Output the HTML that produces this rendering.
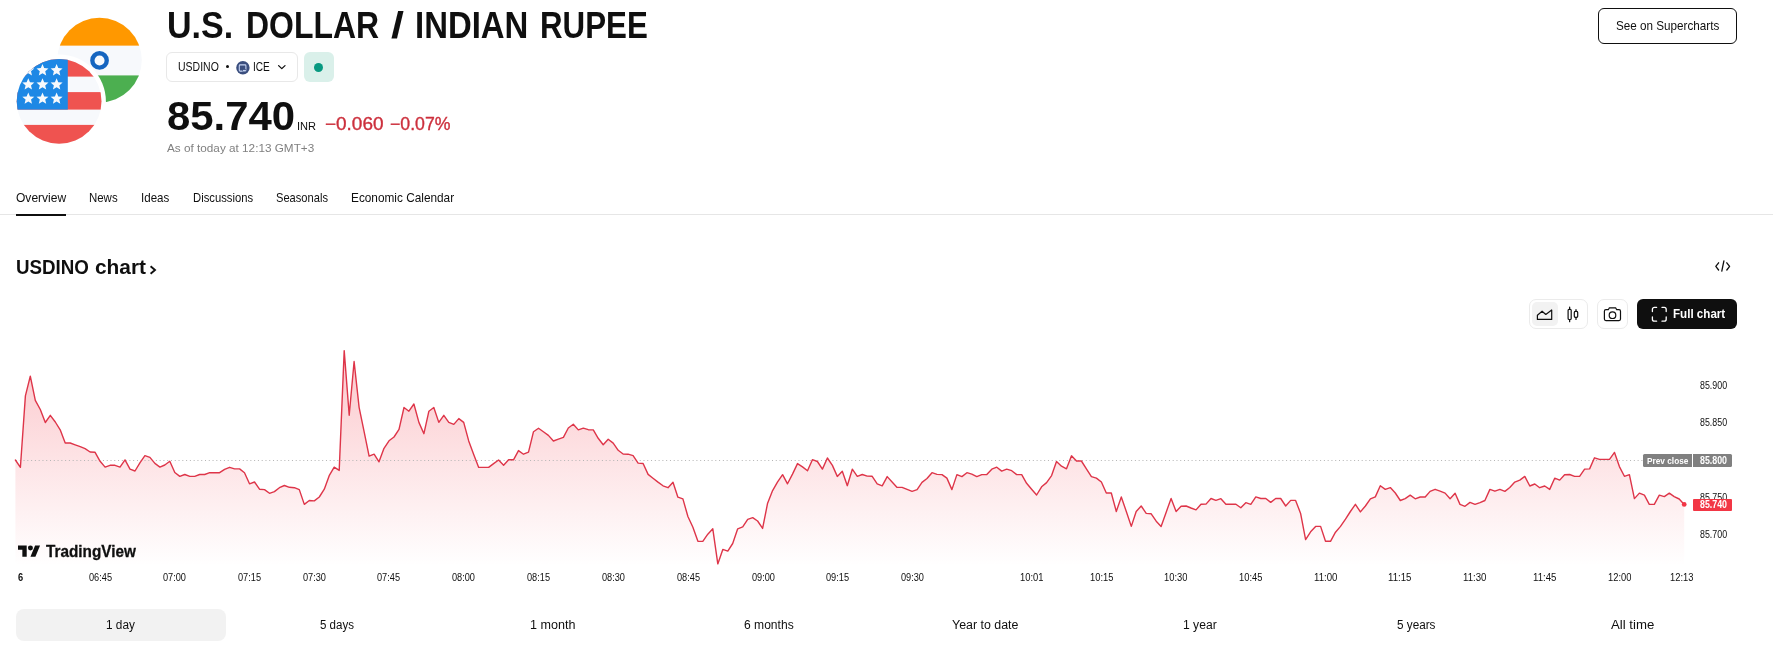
<!DOCTYPE html>
<html lang="en"><head><meta charset="utf-8"><title>USDINO</title>
<style>
html,body{margin:0;padding:0;background:#fff}
body{width:1773px;height:670px;position:relative;overflow:hidden;font-family:"Liberation Sans",sans-serif;color:#0f0f0f}
.t{position:absolute;white-space:nowrap;line-height:0;transform-origin:0 0;display:block}
.b{position:absolute;box-sizing:border-box}
svg{position:absolute;overflow:visible}
</style></head><body>

<svg style="left:0;top:0" width="160" height="160" viewBox="0 0 160 160">
<defs>
<clipPath id="ci"><circle cx="99.5" cy="60.1" r="42.3"/></clipPath>
<clipPath id="cu"><circle cx="59.1" cy="101.3" r="42.4"/></clipPath>
<mask id="mi"><rect width="160" height="160" fill="#fff"/><circle cx="59.1" cy="101.3" r="46.8" fill="#000"/></mask>
</defs>
<g mask="url(#mi)"><g clip-path="url(#ci)">
<rect x="56" y="17" width="88" height="28.8" fill="#FF9800"/>
<rect x="56" y="45.8" width="88" height="29.6" fill="#F7F9FC"/>
<rect x="56" y="75.4" width="88" height="28" fill="#4CAF50"/>
<circle cx="99.55" cy="60.45" r="7.2" fill="none" stroke="#1565C0" stroke-width="4.35"/>
</g></g>
<g clip-path="url(#cu)">
<rect x="16" y="58" width="87" height="87" fill="#F7F9FC"/>
<rect x="16" y="58" width="87" height="18.6" fill="#EF5350"/>
<rect x="16" y="92.1" width="87" height="17.5" fill="#EF5350"/>
<rect x="16" y="124.9" width="87" height="20" fill="#EF5350"/>
<rect x="16" y="58" width="51.8" height="51.6" fill="#1E88E5"/>

<polygon points="28.30,64.10 29.98,68.09 34.29,68.45 31.01,71.28 32.00,75.50 28.30,73.25 24.60,75.50 25.59,71.28 22.31,68.45 26.62,68.09" fill="#F7F9FC"/>
<polygon points="42.50,64.10 44.18,68.09 48.49,68.45 45.21,71.28 46.20,75.50 42.50,73.25 38.80,75.50 39.79,71.28 36.51,68.45 40.82,68.09" fill="#F7F9FC"/>
<polygon points="56.60,64.10 58.28,68.09 62.59,68.45 59.31,71.28 60.30,75.50 56.60,73.25 52.90,75.50 53.89,71.28 50.61,68.45 54.92,68.09" fill="#F7F9FC"/>
<polygon points="28.30,78.20 29.98,82.19 34.29,82.55 31.01,85.38 32.00,89.60 28.30,87.35 24.60,89.60 25.59,85.38 22.31,82.55 26.62,82.19" fill="#F7F9FC"/>
<polygon points="42.50,78.20 44.18,82.19 48.49,82.55 45.21,85.38 46.20,89.60 42.50,87.35 38.80,89.60 39.79,85.38 36.51,82.55 40.82,82.19" fill="#F7F9FC"/>
<polygon points="56.60,78.20 58.28,82.19 62.59,82.55 59.31,85.38 60.30,89.60 56.60,87.35 52.90,89.60 53.89,85.38 50.61,82.55 54.92,82.19" fill="#F7F9FC"/>
<polygon points="28.30,92.40 29.98,96.39 34.29,96.75 31.01,99.58 32.00,103.80 28.30,101.55 24.60,103.80 25.59,99.58 22.31,96.75 26.62,96.39" fill="#F7F9FC"/>
<polygon points="42.50,92.40 44.18,96.39 48.49,96.75 45.21,99.58 46.20,103.80 42.50,101.55 38.80,103.80 39.79,99.58 36.51,96.75 40.82,96.39" fill="#F7F9FC"/>
<polygon points="56.60,92.40 58.28,96.39 62.59,96.75 59.31,99.58 60.30,103.80 56.60,101.55 52.90,103.80 53.89,99.58 50.61,96.75 54.92,96.39" fill="#F7F9FC"/>
</g></svg>

<h1 style="margin:0;font-size:0">
<span class="t" style="left:166.76px;top:24.99px;font-size:37.39px;transform:scaleX(0.9107);color:#0f0f0f;font-weight:700;">U.S.</span>
<span class="t" style="left:246.42px;top:24.99px;font-size:37.39px;transform:scaleX(0.8544);color:#0f0f0f;font-weight:700;">DOLLAR</span>
<span class="t" style="left:391.17px;top:24.99px;font-size:37.39px;transform:scaleX(1.2500);color:#0f0f0f;font-weight:700;">/</span>
<span class="t" style="left:415.06px;top:24.99px;font-size:37.39px;transform:scaleX(0.8807);color:#0f0f0f;font-weight:700;">INDIAN</span>
<span class="t" style="left:540.27px;top:24.99px;font-size:37.39px;transform:scaleX(0.8371);color:#0f0f0f;font-weight:700;">RUPEE</span>
</h1>
<div class="b" style="left:166px;top:52px;width:132px;height:30px;border:1px solid #e8e8e8;border-radius:6px"></div>
<span class="t" style="left:177.81px;top:66.98px;font-size:12.61px;transform:scaleX(0.8320);color:#0f0f0f;">USDINO</span>
<div class="b" style="left:225.8px;top:64.9px;width:3px;height:3px;border-radius:50%;background:#0f0f0f"></div>
<svg style="left:236px;top:60.5px" width="14" height="14" viewBox="0 0 14 14"><circle cx="6.9" cy="6.8" r="6.7" fill="#3A4E7E"/>
<rect x="3.3" y="3.9" width="6.6" height="6.2" rx="0.8" fill="none" stroke="#C5D3F2" stroke-width="1.1"/><rect x="6.3" y="8.2" width="4" height="2.3" fill="#3A4E7E"/><rect x="6.9" y="8.9" width="3" height="1.2" fill="#C5D3F2"/></svg>
<span class="t" style="left:252.69px;top:66.98px;font-size:12.61px;transform:scaleX(0.8008);color:#0f0f0f;">ICE</span>
<svg style="left:277px;top:63px" width="10" height="8" viewBox="0 0 10 8"><path d="M1.6 2.6 L4.8 5.6 L8 2.6" fill="none" stroke="#0f0f0f" stroke-width="1.3" stroke-linecap="round" stroke-linejoin="round"/></svg>
<div class="b" style="left:304px;top:52px;width:30px;height:30px;border-radius:6px;background:#DAF0EA"></div>
<div class="b" style="left:313.8px;top:62.8px;width:9.6px;height:9.6px;border-radius:50%;background:#089981"></div>
<span class="t" style="left:166.84px;top:115.99px;font-size:40.00px;transform:scaleX(1.0467);color:#0f0f0f;font-weight:700;">85.740</span>
<span class="t" style="left:297.10px;top:125.98px;font-size:11.45px;transform:scaleX(0.9667);color:#0f0f0f;">INR</span>
<span class="t" style="left:325.15px;top:123.95px;font-size:17.89px;transform:scaleX(1.0603);color:#CC2F3C;-webkit-text-stroke:0.35px #CC2F3C;">−0.060</span>
<span class="t" style="left:390.40px;top:123.95px;font-size:17.89px;transform:scaleX(0.9891);color:#CC2F3C;-webkit-text-stroke:0.35px #CC2F3C;">−0.07%</span>
<span class="t" style="left:166.60px;top:147.98px;font-size:11.16px;transform:scaleX(1.0528);color:#808080;">As of today at 12:13 GMT+3</span>
<div class="b" style="left:1598px;top:8px;width:139px;height:36px;border:1px solid #0f0f0f;border-radius:6px"></div>
<span class="t" style="left:1616.17px;top:26.03px;font-size:12.46px;transform:scaleX(0.9382);color:#0f0f0f;">See on Supercharts</span>
<div class="b" style="left:0;top:214px;width:1773px;height:1px;background:#e6e6e6"></div>
<div class="b" style="left:16px;top:214px;width:50px;height:2px;background:#0f0f0f"></div>
<span class="t" style="left:15.56px;top:198.03px;font-size:12.46px;transform:scaleX(0.9670);color:#0f0f0f;">Overview</span>
<span class="t" style="left:89.48px;top:198.03px;font-size:12.46px;transform:scaleX(0.9187);color:#0f0f0f;">News</span>
<span class="t" style="left:141.36px;top:198.03px;font-size:12.46px;transform:scaleX(0.9271);color:#0f0f0f;">Ideas</span>
<span class="t" style="left:193.10px;top:198.03px;font-size:12.46px;transform:scaleX(0.9040);color:#0f0f0f;">Discussions</span>
<span class="t" style="left:276.30px;top:198.03px;font-size:12.46px;transform:scaleX(0.8935);color:#0f0f0f;">Seasonals</span>
<span class="t" style="left:351.05px;top:198.03px;font-size:12.46px;transform:scaleX(0.9490);color:#0f0f0f;">Economic Calendar</span>
<h2 style="margin:0;font-size:0">
<span class="t" style="left:16.07px;top:266.97px;font-size:20.72px;transform:scaleX(0.9054);color:#0f0f0f;font-weight:700;">USDINO</span>
<span class="t" style="left:94.97px;top:266.97px;font-size:20.72px;transform:scaleX(1.0075);color:#0f0f0f;font-weight:700;">chart</span>
</h2>
<svg style="left:148px;top:263px" width="10" height="13" viewBox="0 0 10 13"><path d="M2.6 3.2 L7 7 L2.6 10.8" fill="none" stroke="#0f0f0f" stroke-width="1.9" stroke-linejoin="miter"/></svg>
<svg style="left:1713px;top:258px" width="20" height="16" viewBox="0 0 20 16"><path d="M5.6 4.8 L2.8 8.4 L5.6 12 M8.8 13.2 L10.9 2.9 M13.8 4.8 L16.6 8.4 L13.8 12" fill="none" stroke="#0f0f0f" stroke-width="1.3" stroke-linecap="round" stroke-linejoin="round"/></svg>
<div class="b" style="left:1529px;top:299px;width:58.5px;height:30.4px;border:1px solid #ebebeb;border-radius:7px"></div>
<div class="b" style="left:1532px;top:302px;width:26px;height:24.4px;border-radius:5px;background:#f2f2f2"></div>
<svg style="left:1529px;top:299px" width="60" height="31" viewBox="0 0 60 31"><g fill="none" stroke="#0f0f0f" stroke-width="1.2" stroke-linejoin="round" stroke-linecap="round">
<path d="M8.4 20.4 V16.2 L13.1 12.2 L16.8 15.5 L22.7 11 V20.4 Z"/>
<rect x="39.1" y="10.3" width="3.1" height="10.2" rx="1"/><path d="M40.65 8.1 V10.3 M40.65 20.5 V22.7"/>
<rect x="45.3" y="12.4" width="3.4" height="5.9" rx="1"/><path d="M47 10.6 V12.4 M47 18.3 V20.5"/>
</g></svg>
<div class="b" style="left:1597px;top:299px;width:30.6px;height:30.4px;border:1px solid #ebebeb;border-radius:7px"></div>
<svg style="left:1597px;top:299px" width="31" height="31" viewBox="0 0 31 31"><g fill="none" stroke="#0f0f0f" stroke-width="1.2" stroke-linejoin="round">
<path d="M8.9 10.7 H11.3 L12.4 8.8 H18.6 L19.7 10.7 H22 A1.5 1.5 0 0 1 23.5 12.2 V20.1 A1.5 1.5 0 0 1 22 21.6 H8.9 A1.5 1.5 0 0 1 7.4 20.1 V12.2 A1.5 1.5 0 0 1 8.9 10.7 Z"/>
<circle cx="15.5" cy="16.2" r="3.3"/></g></svg>
<div class="b" style="left:1637px;top:299px;width:100px;height:30px;border-radius:6px;background:#0f0f0f"></div>
<svg style="left:1651px;top:306px" width="17" height="17" viewBox="0 0 17 17"><g fill="none" stroke="#fff" stroke-width="1.3" stroke-linecap="round">
<path d="M1.4 5.6 V3.4 A2 2 0 0 1 3.4 1.4 H5.6 M11 1.4 H13.2 A2 2 0 0 1 15.2 3.4 V5.6 M15.2 11 V13.2 A2 2 0 0 1 13.2 15.2 H11 M5.6 15.2 H3.4 A2 2 0 0 1 1.4 13.2 V11"/></g></svg>
<span class="t" style="left:1672.85px;top:314.03px;font-size:12.75px;transform:scaleX(0.9100);color:#fff;font-weight:700;">Full chart</span>
<svg style="left:0;top:0" width="1773" height="670" viewBox="0 0 1773 670">
<defs><linearGradient id="ag" gradientUnits="userSpaceOnUse" x1="0" y1="350" x2="0" y2="566">
<stop offset="0" stop-color="#F23645" stop-opacity="0.28"/><stop offset="1" stop-color="#F23645" stop-opacity="0"/></linearGradient></defs>
<path d="M15.4 460.0 L20.4 467.3 L25.4 395.9 L30.3 376.1 L35.3 400.3 L40.3 409.5 L45.3 422.5 L50.3 415.3 L55.3 422.0 L60.2 429.8 L65.2 443.0 L70.2 443.0 L75.2 444.8 L80.2 446.7 L85.1 448.7 L90.1 452.0 L95.1 452.3 L100.1 461.3 L105.1 467.1 L110.0 465.3 L115.0 465.3 L120.0 467.1 L125.0 459.9 L130.0 469.2 L135.0 471.0 L139.9 462.8 L144.9 455.6 L149.9 457.4 L154.9 463.4 L159.9 467.1 L164.8 465.0 L169.8 461.3 L174.8 472.5 L179.8 476.4 L184.8 474.5 L189.8 476.4 L194.7 476.4 L199.7 474.5 L204.7 474.5 L209.7 472.7 L214.7 472.7 L219.6 472.7 L224.6 469.3 L229.6 467.3 L234.6 468.9 L239.6 468.9 L244.5 472.7 L249.5 483.8 L254.5 482.0 L259.5 489.2 L264.5 489.6 L269.5 493.3 L274.4 491.6 L279.4 487.7 L284.4 485.5 L289.4 487.3 L294.4 487.7 L299.3 489.6 L304.3 504.4 L309.3 500.5 L314.3 500.9 L319.3 497.0 L324.3 489.2 L329.2 475.7 L334.2 467.2 L339.2 470.4 L344.2 350.6 L349.2 415.2 L354.1 361.5 L359.1 407.3 L364.1 431.6 L369.1 456.1 L374.1 454.2 L379.0 461.8 L384.0 448.3 L389.0 440.8 L394.0 437.0 L399.0 429.4 L404.0 407.5 L408.9 411.2 L413.9 404.0 L418.9 422.4 L423.9 433.7 L428.9 411.2 L433.8 407.5 L438.8 422.4 L443.8 415.3 L448.8 422.4 L453.8 424.4 L458.8 418.6 L463.7 422.4 L468.7 440.9 L473.7 454.5 L478.7 467.4 L483.7 467.4 L488.6 467.4 L493.6 463.6 L498.6 460.0 L503.6 465.2 L508.6 459.8 L513.5 459.8 L518.5 450.6 L523.5 454.2 L528.5 452.2 L533.5 431.7 L538.5 428.2 L543.4 431.7 L548.4 435.4 L553.4 441.0 L558.4 439.2 L563.4 437.3 L568.3 428.0 L573.3 424.3 L578.3 429.9 L583.3 428.2 L588.3 429.7 L593.3 429.9 L598.2 438.3 L603.2 444.7 L608.2 439.2 L613.2 443.1 L618.2 450.3 L623.1 454.0 L628.1 454.2 L633.1 455.7 L638.1 463.1 L643.1 463.5 L648.1 474.4 L653.0 478.2 L658.0 482.1 L663.0 485.8 L668.0 487.7 L673.0 482.3 L677.9 497.2 L682.9 498.9 L687.9 516.5 L692.9 527.2 L697.9 541.3 L702.8 541.4 L707.8 534.2 L712.8 528.8 L717.8 563.9 L722.8 549.4 L727.8 551.1 L732.7 543.5 L737.7 528.8 L742.7 526.9 L747.7 519.3 L752.7 517.6 L757.6 521.0 L762.6 528.4 L767.6 503.2 L772.6 490.6 L777.6 481.9 L782.6 474.7 L787.5 483.8 L792.5 474.1 L797.5 463.6 L802.5 466.9 L807.5 470.8 L812.4 459.7 L817.4 461.5 L822.4 469.1 L827.4 458.0 L832.4 465.4 L837.3 476.4 L842.3 471.2 L847.3 485.7 L852.3 469.2 L857.3 476.4 L862.3 474.5 L867.2 476.1 L872.2 476.3 L877.2 483.8 L882.2 485.9 L887.2 476.6 L892.1 482.0 L897.1 487.4 L902.1 487.4 L907.1 489.4 L912.1 491.3 L917.1 489.7 L922.0 482.4 L927.0 478.5 L932.0 472.7 L937.0 474.4 L942.0 474.6 L946.9 478.1 L951.9 489.6 L956.9 474.6 L961.9 476.6 L966.9 472.7 L971.8 474.2 L976.8 476.6 L981.8 474.6 L986.8 474.6 L991.8 469.2 L996.8 467.2 L1001.7 471.1 L1006.7 469.2 L1011.7 470.7 L1016.7 474.6 L1021.7 474.6 L1026.6 483.3 L1031.6 489.2 L1036.6 495.0 L1041.6 486.8 L1046.6 482.6 L1051.6 475.6 L1056.5 461.6 L1061.5 466.2 L1066.5 468.8 L1071.5 455.8 L1076.5 461.0 L1081.4 461.0 L1086.4 468.8 L1091.4 476.6 L1096.4 478.1 L1101.4 482.0 L1106.3 493.0 L1111.3 493.0 L1116.3 511.5 L1121.3 496.9 L1126.3 511.5 L1131.3 526.4 L1136.2 511.5 L1141.2 506.0 L1146.2 513.4 L1151.2 513.8 L1156.2 521.2 L1161.1 526.4 L1166.1 512.4 L1171.1 498.5 L1176.1 511.5 L1181.1 506.2 L1186.1 506.0 L1191.0 508.0 L1196.0 509.9 L1201.0 504.3 L1206.0 504.1 L1211.0 498.5 L1215.9 500.4 L1220.9 498.7 L1225.9 504.2 L1230.9 504.2 L1235.9 504.2 L1240.8 507.8 L1245.8 502.7 L1250.8 504.3 L1255.8 496.9 L1260.8 498.5 L1265.8 498.5 L1270.7 502.4 L1275.7 498.5 L1280.7 498.5 L1285.7 506.0 L1290.7 500.4 L1295.6 500.4 L1300.6 513.4 L1305.6 539.6 L1310.6 531.8 L1315.6 526.4 L1320.6 526.4 L1325.5 541.3 L1330.5 541.3 L1335.5 532.2 L1340.5 526.4 L1345.5 519.2 L1350.4 511.5 L1355.4 504.3 L1360.4 511.9 L1365.4 506.0 L1370.4 498.9 L1375.3 496.9 L1380.3 485.7 L1385.3 489.4 L1390.3 487.6 L1395.3 493.0 L1400.3 500.5 L1405.2 498.6 L1410.2 495.1 L1415.2 498.8 L1420.2 497.0 L1425.2 497.0 L1430.1 491.4 L1435.1 489.3 L1440.1 491.2 L1445.1 493.1 L1450.1 498.8 L1455.1 493.3 L1460.0 504.4 L1465.0 506.3 L1470.0 502.4 L1475.0 504.4 L1480.0 502.6 L1484.9 500.5 L1489.9 489.4 L1494.9 491.2 L1499.9 489.4 L1504.9 491.4 L1509.8 487.5 L1514.8 482.1 L1519.8 480.1 L1524.8 476.4 L1529.8 486.0 L1534.8 484.0 L1539.7 487.7 L1544.7 486.0 L1549.7 489.4 L1554.7 478.2 L1559.7 480.1 L1564.6 474.7 L1569.6 474.5 L1574.6 476.4 L1579.6 476.4 L1584.6 469.1 L1589.6 468.9 L1594.5 457.8 L1599.5 459.4 L1604.5 459.4 L1609.5 459.4 L1614.5 452.4 L1619.4 466.6 L1624.4 476.3 L1629.4 474.7 L1634.4 498.6 L1639.4 493.1 L1644.4 495.1 L1649.3 504.4 L1654.3 504.4 L1659.3 495.1 L1664.3 496.6 L1669.3 493.1 L1674.2 496.6 L1679.2 499.0 L1684.2 504.4 L1684.2 566 L15.4 566 Z" fill="url(#ag)"/>
<line x1="16" y1="460.5" x2="1643" y2="460.5" stroke="#b4b4b4" stroke-width="1" stroke-dasharray="1 2.78"/>
<path d="M15.4 460.0 L20.4 467.3 L25.4 395.9 L30.3 376.1 L35.3 400.3 L40.3 409.5 L45.3 422.5 L50.3 415.3 L55.3 422.0 L60.2 429.8 L65.2 443.0 L70.2 443.0 L75.2 444.8 L80.2 446.7 L85.1 448.7 L90.1 452.0 L95.1 452.3 L100.1 461.3 L105.1 467.1 L110.0 465.3 L115.0 465.3 L120.0 467.1 L125.0 459.9 L130.0 469.2 L135.0 471.0 L139.9 462.8 L144.9 455.6 L149.9 457.4 L154.9 463.4 L159.9 467.1 L164.8 465.0 L169.8 461.3 L174.8 472.5 L179.8 476.4 L184.8 474.5 L189.8 476.4 L194.7 476.4 L199.7 474.5 L204.7 474.5 L209.7 472.7 L214.7 472.7 L219.6 472.7 L224.6 469.3 L229.6 467.3 L234.6 468.9 L239.6 468.9 L244.5 472.7 L249.5 483.8 L254.5 482.0 L259.5 489.2 L264.5 489.6 L269.5 493.3 L274.4 491.6 L279.4 487.7 L284.4 485.5 L289.4 487.3 L294.4 487.7 L299.3 489.6 L304.3 504.4 L309.3 500.5 L314.3 500.9 L319.3 497.0 L324.3 489.2 L329.2 475.7 L334.2 467.2 L339.2 470.4 L344.2 350.6 L349.2 415.2 L354.1 361.5 L359.1 407.3 L364.1 431.6 L369.1 456.1 L374.1 454.2 L379.0 461.8 L384.0 448.3 L389.0 440.8 L394.0 437.0 L399.0 429.4 L404.0 407.5 L408.9 411.2 L413.9 404.0 L418.9 422.4 L423.9 433.7 L428.9 411.2 L433.8 407.5 L438.8 422.4 L443.8 415.3 L448.8 422.4 L453.8 424.4 L458.8 418.6 L463.7 422.4 L468.7 440.9 L473.7 454.5 L478.7 467.4 L483.7 467.4 L488.6 467.4 L493.6 463.6 L498.6 460.0 L503.6 465.2 L508.6 459.8 L513.5 459.8 L518.5 450.6 L523.5 454.2 L528.5 452.2 L533.5 431.7 L538.5 428.2 L543.4 431.7 L548.4 435.4 L553.4 441.0 L558.4 439.2 L563.4 437.3 L568.3 428.0 L573.3 424.3 L578.3 429.9 L583.3 428.2 L588.3 429.7 L593.3 429.9 L598.2 438.3 L603.2 444.7 L608.2 439.2 L613.2 443.1 L618.2 450.3 L623.1 454.0 L628.1 454.2 L633.1 455.7 L638.1 463.1 L643.1 463.5 L648.1 474.4 L653.0 478.2 L658.0 482.1 L663.0 485.8 L668.0 487.7 L673.0 482.3 L677.9 497.2 L682.9 498.9 L687.9 516.5 L692.9 527.2 L697.9 541.3 L702.8 541.4 L707.8 534.2 L712.8 528.8 L717.8 563.9 L722.8 549.4 L727.8 551.1 L732.7 543.5 L737.7 528.8 L742.7 526.9 L747.7 519.3 L752.7 517.6 L757.6 521.0 L762.6 528.4 L767.6 503.2 L772.6 490.6 L777.6 481.9 L782.6 474.7 L787.5 483.8 L792.5 474.1 L797.5 463.6 L802.5 466.9 L807.5 470.8 L812.4 459.7 L817.4 461.5 L822.4 469.1 L827.4 458.0 L832.4 465.4 L837.3 476.4 L842.3 471.2 L847.3 485.7 L852.3 469.2 L857.3 476.4 L862.3 474.5 L867.2 476.1 L872.2 476.3 L877.2 483.8 L882.2 485.9 L887.2 476.6 L892.1 482.0 L897.1 487.4 L902.1 487.4 L907.1 489.4 L912.1 491.3 L917.1 489.7 L922.0 482.4 L927.0 478.5 L932.0 472.7 L937.0 474.4 L942.0 474.6 L946.9 478.1 L951.9 489.6 L956.9 474.6 L961.9 476.6 L966.9 472.7 L971.8 474.2 L976.8 476.6 L981.8 474.6 L986.8 474.6 L991.8 469.2 L996.8 467.2 L1001.7 471.1 L1006.7 469.2 L1011.7 470.7 L1016.7 474.6 L1021.7 474.6 L1026.6 483.3 L1031.6 489.2 L1036.6 495.0 L1041.6 486.8 L1046.6 482.6 L1051.6 475.6 L1056.5 461.6 L1061.5 466.2 L1066.5 468.8 L1071.5 455.8 L1076.5 461.0 L1081.4 461.0 L1086.4 468.8 L1091.4 476.6 L1096.4 478.1 L1101.4 482.0 L1106.3 493.0 L1111.3 493.0 L1116.3 511.5 L1121.3 496.9 L1126.3 511.5 L1131.3 526.4 L1136.2 511.5 L1141.2 506.0 L1146.2 513.4 L1151.2 513.8 L1156.2 521.2 L1161.1 526.4 L1166.1 512.4 L1171.1 498.5 L1176.1 511.5 L1181.1 506.2 L1186.1 506.0 L1191.0 508.0 L1196.0 509.9 L1201.0 504.3 L1206.0 504.1 L1211.0 498.5 L1215.9 500.4 L1220.9 498.7 L1225.9 504.2 L1230.9 504.2 L1235.9 504.2 L1240.8 507.8 L1245.8 502.7 L1250.8 504.3 L1255.8 496.9 L1260.8 498.5 L1265.8 498.5 L1270.7 502.4 L1275.7 498.5 L1280.7 498.5 L1285.7 506.0 L1290.7 500.4 L1295.6 500.4 L1300.6 513.4 L1305.6 539.6 L1310.6 531.8 L1315.6 526.4 L1320.6 526.4 L1325.5 541.3 L1330.5 541.3 L1335.5 532.2 L1340.5 526.4 L1345.5 519.2 L1350.4 511.5 L1355.4 504.3 L1360.4 511.9 L1365.4 506.0 L1370.4 498.9 L1375.3 496.9 L1380.3 485.7 L1385.3 489.4 L1390.3 487.6 L1395.3 493.0 L1400.3 500.5 L1405.2 498.6 L1410.2 495.1 L1415.2 498.8 L1420.2 497.0 L1425.2 497.0 L1430.1 491.4 L1435.1 489.3 L1440.1 491.2 L1445.1 493.1 L1450.1 498.8 L1455.1 493.3 L1460.0 504.4 L1465.0 506.3 L1470.0 502.4 L1475.0 504.4 L1480.0 502.6 L1484.9 500.5 L1489.9 489.4 L1494.9 491.2 L1499.9 489.4 L1504.9 491.4 L1509.8 487.5 L1514.8 482.1 L1519.8 480.1 L1524.8 476.4 L1529.8 486.0 L1534.8 484.0 L1539.7 487.7 L1544.7 486.0 L1549.7 489.4 L1554.7 478.2 L1559.7 480.1 L1564.6 474.7 L1569.6 474.5 L1574.6 476.4 L1579.6 476.4 L1584.6 469.1 L1589.6 468.9 L1594.5 457.8 L1599.5 459.4 L1604.5 459.4 L1609.5 459.4 L1614.5 452.4 L1619.4 466.6 L1624.4 476.3 L1629.4 474.7 L1634.4 498.6 L1639.4 493.1 L1644.4 495.1 L1649.3 504.4 L1654.3 504.4 L1659.3 495.1 L1664.3 496.6 L1669.3 493.1 L1674.2 496.6 L1679.2 499.0 L1684.2 504.4" fill="none" stroke="#DE3549" stroke-width="1.4" stroke-linejoin="round" stroke-linecap="round"/>
<circle cx="1684.2" cy="504.4" r="2.4" fill="#F23645"/>
</svg>

<span class="t" style="left:1700.45px;top:385.99px;font-size:10.00px;transform:scaleX(0.8844);color:#0f0f0f;">85.900</span>
<span class="t" style="left:1700.45px;top:422.99px;font-size:10.00px;transform:scaleX(0.8844);color:#0f0f0f;">85.850</span>
<span class="t" style="left:1700.45px;top:497.99px;font-size:10.00px;transform:scaleX(0.8844);color:#0f0f0f;">85.750</span>
<span class="t" style="left:1700.45px;top:534.99px;font-size:10.00px;transform:scaleX(0.8844);color:#0f0f0f;">85.700</span>
<div class="b" style="left:1643px;top:454px;width:49px;height:12.6px;border-radius:1.5px 0 0 1.5px;background:#808080"></div>
<div class="b" style="left:1693px;top:454px;width:39.4px;height:12.6px;border-radius:0 1.5px 1.5px 0;background:#808080"></div>
<span class="t" style="left:1646.66px;top:461.03px;font-size:9.57px;transform:scaleX(0.8649);color:#fff;font-weight:700;">Prev close</span>
<span class="t" style="left:1700.43px;top:460.99px;font-size:10.28px;transform:scaleX(0.8607);color:#fff;font-weight:700;">85.800</span>
<div class="b" style="left:1693px;top:498.6px;width:39.4px;height:12.6px;border-radius:1px;background:#F23645"></div>
<span class="t" style="left:1700.43px;top:504.99px;font-size:10.28px;transform:scaleX(0.8607);color:#fff;font-weight:700;">85.740</span>
<svg style="left:17.5px;top:542.8px" width="22.4" height="17.43" viewBox="0 0 36 28"><path d="M14 22H7V11H0V4h14v18zM28 22h-8l7.5-18h8L28 22z" fill="#0f0f0f"/><circle cx="20" cy="8" r="4" fill="#0f0f0f"/></svg>
<span class="t" style="left:45.75px;top:552.03px;font-size:15.94px;transform:scaleX(0.9595);color:#0f0f0f;font-weight:700;-webkit-text-stroke:0.3px #0f0f0f;">TradingView</span>
<span class="t" style="left:17.78px;top:577.99px;font-size:10.00px;transform:scaleX(0.9278);color:#0f0f0f;font-weight:700;">6</span>
<span class="t" style="left:88.53px;top:577.99px;font-size:10.00px;transform:scaleX(0.9196);color:#0f0f0f;">06:45</span>
<span class="t" style="left:163.33px;top:577.99px;font-size:10.00px;transform:scaleX(0.9177);color:#0f0f0f;">07:00</span>
<span class="t" style="left:237.93px;top:577.99px;font-size:10.00px;transform:scaleX(0.9196);color:#0f0f0f;">07:15</span>
<span class="t" style="left:302.53px;top:577.99px;font-size:10.00px;transform:scaleX(0.9177);color:#0f0f0f;">07:30</span>
<span class="t" style="left:377.33px;top:577.99px;font-size:10.00px;transform:scaleX(0.9196);color:#0f0f0f;">07:45</span>
<span class="t" style="left:452.03px;top:577.99px;font-size:10.00px;transform:scaleX(0.9177);color:#0f0f0f;">08:00</span>
<span class="t" style="left:526.73px;top:577.99px;font-size:10.00px;transform:scaleX(0.9196);color:#0f0f0f;">08:15</span>
<span class="t" style="left:601.53px;top:577.99px;font-size:10.00px;transform:scaleX(0.9177);color:#0f0f0f;">08:30</span>
<span class="t" style="left:676.53px;top:577.99px;font-size:10.00px;transform:scaleX(0.9196);color:#0f0f0f;">08:45</span>
<span class="t" style="left:751.53px;top:577.99px;font-size:10.00px;transform:scaleX(0.9177);color:#0f0f0f;">09:00</span>
<span class="t" style="left:826.03px;top:577.99px;font-size:10.00px;transform:scaleX(0.9196);color:#0f0f0f;">09:15</span>
<span class="t" style="left:900.53px;top:577.99px;font-size:10.00px;transform:scaleX(0.9177);color:#0f0f0f;">09:30</span>
<span class="t" style="left:1019.55px;top:577.99px;font-size:10.00px;transform:scaleX(0.9370);color:#0f0f0f;">10:01</span>
<span class="t" style="left:1089.55px;top:577.99px;font-size:10.00px;transform:scaleX(0.9350);color:#0f0f0f;">10:15</span>
<span class="t" style="left:1164.25px;top:577.99px;font-size:10.00px;transform:scaleX(0.9331);color:#0f0f0f;">10:30</span>
<span class="t" style="left:1239.05px;top:577.99px;font-size:10.00px;transform:scaleX(0.9350);color:#0f0f0f;">10:45</span>
<span class="t" style="left:1313.83px;top:577.99px;font-size:10.00px;transform:scaleX(0.9633);color:#0f0f0f;">11:00</span>
<span class="t" style="left:1388.33px;top:577.99px;font-size:10.00px;transform:scaleX(0.9654);color:#0f0f0f;">11:15</span>
<span class="t" style="left:1463.13px;top:577.99px;font-size:10.00px;transform:scaleX(0.9633);color:#0f0f0f;">11:30</span>
<span class="t" style="left:1533.13px;top:577.99px;font-size:10.00px;transform:scaleX(0.9654);color:#0f0f0f;">11:45</span>
<span class="t" style="left:1607.75px;top:577.99px;font-size:10.00px;transform:scaleX(0.9331);color:#0f0f0f;">12:00</span>
<span class="t" style="left:1670.05px;top:577.99px;font-size:10.00px;transform:scaleX(0.9350);color:#0f0f0f;">12:13</span>
<div class="b" style="left:16px;top:609px;width:210px;height:32px;border-radius:8px;background:#f2f2f2"></div>
<span class="t" style="left:106.21px;top:624.98px;font-size:12.61px;transform:scaleX(0.9369);color:#0f0f0f;">1 day</span>
<span class="t" style="left:320.14px;top:624.98px;font-size:12.61px;transform:scaleX(0.9146);color:#0f0f0f;">5 days</span>
<span class="t" style="left:530.16px;top:624.98px;font-size:12.61px;transform:scaleX(0.9973);color:#0f0f0f;">1 month</span>
<span class="t" style="left:743.90px;top:624.98px;font-size:12.61px;transform:scaleX(0.9583);color:#0f0f0f;">6 months</span>
<span class="t" style="left:951.55px;top:624.98px;font-size:12.61px;transform:scaleX(0.9840);color:#0f0f0f;">Year to date</span>
<span class="t" style="left:1183.29px;top:624.98px;font-size:12.61px;transform:scaleX(0.9611);color:#0f0f0f;">1 year</span>
<span class="t" style="left:1397.13px;top:624.98px;font-size:12.61px;transform:scaleX(0.9303);color:#0f0f0f;">5 years</span>
<span class="t" style="left:1610.90px;top:624.98px;font-size:12.61px;transform:scaleX(1.0467);color:#0f0f0f;">All time</span>
</body></html>
